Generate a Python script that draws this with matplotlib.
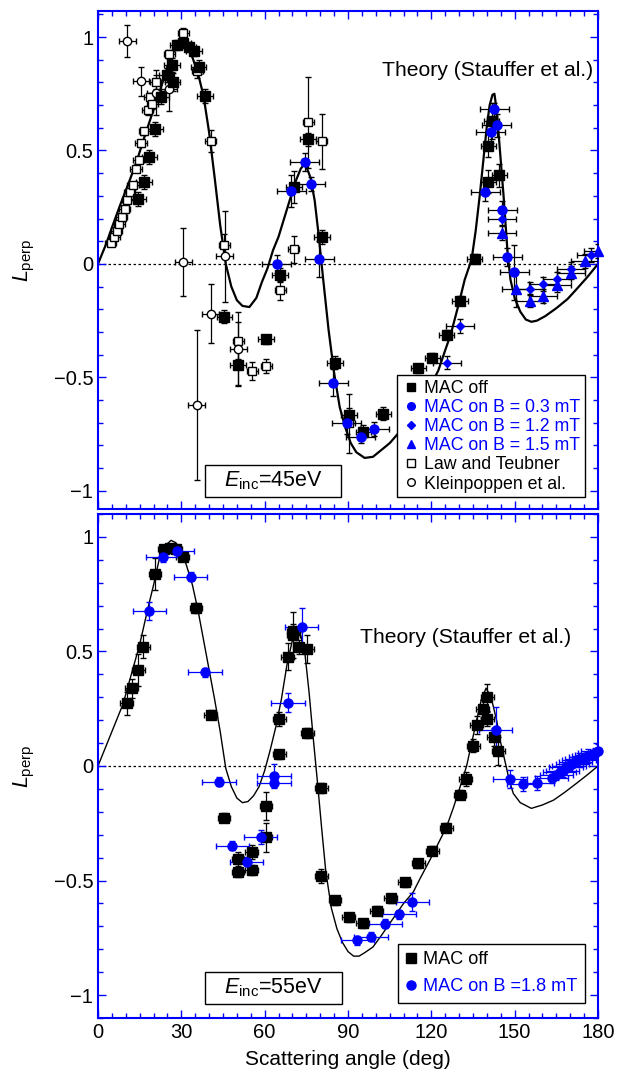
import numpy as np
import matplotlib
matplotlib.use('Agg')
import matplotlib.pyplot as plt
from matplotlib.ticker import MultipleLocator
from matplotlib.lines import Line2D
from matplotlib.patches import Rectangle

plt.rcParams['font.family'] = ['Liberation Sans', 'DejaVu Sans']
plt.rcParams['mathtext.fontset'] = 'custom'
plt.rcParams['mathtext.rm'] = 'Liberation Sans'
plt.rcParams['mathtext.it'] = 'Liberation Sans:italic'

BLUE = '#0000ff'

# ---- 45 eV ----
# theory (Stauffer et al.)
theta_th45 = [0, 3, 5, 8, 11, 14, 17, 20, 23, 25, 27, 29, 30.5, 32, 34, 36, 38, 40, 42, 44,
              46, 48, 50, 52, 54.5, 57, 59, 61, 63, 65, 67, 69, 71, 73, 74, 75, 76.5, 78,
              79.5, 81, 83, 85, 87, 89, 91, 93, 96, 99, 102, 105, 110, 115, 120, 122.5, 125,
              127, 130, 132, 134.5, 136, 137.5, 139, 140, 141, 142, 142.7, 143.5, 144.5, 146,
              147.5, 148.5, 150, 152, 154, 156, 158, 161, 165, 169, 172, 176, 180]
L_th45 = [0, 0.09, 0.16, 0.26, 0.355, 0.455, 0.57, 0.68, 0.79, 0.87, 0.93, 0.965, 0.975, 0.96,
          0.91, 0.84, 0.74, 0.58, 0.38, 0.17, 0.0, -0.1, -0.16, -0.185, -0.19, -0.15, -0.08,
          -0.02, 0.06, 0.12, 0.2, 0.28, 0.36, 0.42, 0.435, 0.43, 0.38, 0.28, 0.12, -0.06,
          -0.29, -0.48, -0.63, -0.72, -0.79, -0.83, -0.855, -0.85, -0.82, -0.79, -0.72, -0.63,
          -0.53, -0.47, -0.38, -0.31, -0.17, -0.07, 0.02, 0.15, 0.31, 0.49, 0.61, 0.7, 0.745,
          0.75, 0.68, 0.53, 0.3, 0.04, -0.07, -0.15, -0.21, -0.245, -0.255, -0.25, -0.23,
          -0.195, -0.155, -0.115, -0.06, 0]

# rows: theta, L, d_theta, d_L
off45 = np.array([
    [14.5, 0.285, 2.8, 0.03], [16.6, 0.361, 2.8, 0.03], [18.5, 0.47, 2.8, 0.03],
    [20.6, 0.595, 2.8, 0.03], [22.6, 0.734, 2.8, 0.03], [24.7, 0.833, 2.8, 0.03],
    [26.6, 0.877, 2.8, 0.03], [26.9, 0.80, 2.8, 0.04], [28.6, 0.965, 2.8, 0.02],
    [30.7, 0.972, 2.8, 0.02], [32.6, 0.957, 2.8, 0.02], [34.6, 0.938, 2.8, 0.02],
    [36.2, 0.869, 2.8, 0.03], [38.5, 0.74, 2.8, 0.03], [45.5, -0.232, 2.8, 0.03],
    [50.5, -0.446, 2.8, 0.09], [60.5, -0.332, 2.8, 0.02], [65.6, -0.05, 2.8, 0.03],
    [70.6, 0.34, 2.8, 0.07], [75.7, 0.549, 2.8, 0.03], [80.6, 0.118, 2.8, 0.03],
    [85.4, -0.435, 2.8, 0.03], [90.4, -0.665, 2.8, 0.03], [95.5, -0.739, 2.8, 0.03],
    [102.7, -0.66, 2.8, 0.03], [115.3, -0.46, 2.8, 0.02], [120.4, -0.413, 2.8, 0.02],
    [125.5, -0.313, 2.8, 0.02], [130.3, -0.162, 2.8, 0.02], [135.6, 0.023, 2.8, 0.02],
    [140.5, 0.363, 2.8, 0.05], [140.5, 0.521, 2.8, 0.05], [141.7, 0.63, 2.8, 0.08],
    [144.5, 0.39, 2.8, 0.05],
])
b03 = np.array([
    [64.4, 0.0, 5.2, 0.04], [69.6, 0.323, 5.2, 0.07], [74.5, 0.451, 5.2, 0.04],
    [76.6, 0.352, 5.2, 0.03], [79.6, 0.022, 5.2, 0.08], [84.7, -0.523, 5.2, 0.06],
    [89.5, -0.699, 5.2, 0.05], [94.6, -0.761, 5.2, 0.03], [99.4, -0.727, 5.2, 0.03],
    [139.4, 0.319, 5.2, 0.04], [141.4, 0.581, 5.2, 0.05], [142.7, 0.681, 5.2, 0.03],
    [143.5, 0.611, 5.2, 0.05], [145.5, 0.239, 5.2, 0.04], [147.3, 0.032, 5.2, 0.04],
    [149.8, -0.037, 5.2, 0.12],
])
b12 = np.array([
    [125.5, -0.435, 5.0, 0.03], [130.3, -0.273, 5.0, 0.03], [145.5, 0.2, 5.0, 0.03],
    [155.5, -0.109, 5.0, 0.03], [160.3, -0.088, 5.0, 0.03], [165.3, -0.065, 5.0, 0.03],
    [170.3, -0.023, 5.0, 0.03], [177.3, 0.04, 5.0, 0.03],
])
b15 = np.array([
    [145.4, 0.135, 5.0, 0.03], [150.4, -0.112, 5.0, 0.08], [155.5, -0.162, 5.0, 0.03],
    [160.3, -0.141, 5.0, 0.03], [165.3, -0.094, 5.0, 0.03], [170.3, -0.038, 5.0, 0.03],
    [175.3, 0.013, 5.0, 0.03], [180.0, 0.057, 5.0, 0.03],
])
law_teubner = np.array([
    [4.6, 0.094, 2.0, 0.015], [5.8, 0.12, 2.0, 0.015], [6.7, 0.147, 2.0, 0.015],
    [7.7, 0.176, 2.0, 0.015], [8.6, 0.206, 2.0, 0.015], [9.6, 0.242, 2.0, 0.015],
    [10.6, 0.282, 2.0, 0.015], [11.5, 0.319, 2.0, 0.015], [12.6, 0.347, 2.0, 0.015],
    [13.7, 0.42, 2.0, 0.015], [14.6, 0.458, 2.0, 0.015], [15.5, 0.532, 2.0, 0.015],
    [16.7, 0.585, 2.0, 0.015], [17.9, 0.678, 2.0, 0.02], [18.7, 0.734, 2.0, 0.02],
    [19.5, 0.703, 2.0, 0.02], [20.8, 0.803, 2.0, 0.03], [25.7, 0.924, 2.0, 0.02],
    [30.7, 1.019, 2.0, 0.02], [35.7, 0.85, 2.0, 0.03], [40.6, 0.542, 2.0, 0.05],
    [45.5, 0.082, 2.0, 0.05], [50.5, -0.338, 2.0, 0.08], [55.5, -0.471, 2.0, 0.04],
    [60.6, -0.449, 2.0, 0.03], [65.6, -0.117, 2.0, 0.04], [70.4, 0.065, 2.0, 0.06],
    [75.7, 0.624, 2.0, 0.2], [80.6, 0.54, 2.0, 0.12], [90.5, -0.702, 2.0, 0.13],
])
kleinpoppen = np.array([
    [10.6, 0.984, 3.0, 0.07], [15.5, 0.805, 3.0, 0.065], [20.8, 0.755, 3.0, 0.1],
    [25.6, 0.772, 3.0, 0.1], [30.7, 0.009, 3.0, 0.15], [35.5, -0.621, 3.0, 0.33],
    [40.6, -0.22, 3.0, 0.13], [45.6, 0.034, 3.0, 0.2], [50.5, -0.374, 3.0, 0.16],
])

# ---- 55 eV ----
theta_th55 = [0, 3, 6, 9, 12, 15, 18, 20, 22, 24, 26.3, 28, 30, 32, 34, 36, 38, 40, 42, 44,
              46, 48, 50, 52, 54, 56, 58, 60, 62, 64, 66, 68, 70, 71.5, 73, 74.5, 76, 77.5,
              79, 80.5, 82, 84, 86, 88, 90, 92, 94, 96, 99, 102, 106, 110, 113.5, 116, 119.5,
              122, 125.5, 128, 130.5, 132.7, 134.5, 136.3, 138, 139.7, 141.5, 143.5, 145,
              146.9, 148, 149.5, 152, 156, 160, 164, 168, 172, 176, 180]
L_th55 = [0, 0.09, 0.18, 0.27, 0.4, 0.53, 0.69, 0.79, 0.9, 0.96, 0.985, 0.975, 0.945, 0.87,
          0.79, 0.68, 0.55, 0.42, 0.29, 0.15, -0.01, -0.09, -0.14, -0.16, -0.155, -0.13,
          -0.09, -0.02, 0.07, 0.17, 0.29, 0.44, 0.55, 0.595, 0.57, 0.49, 0.32, 0.12, -0.07,
          -0.27, -0.46, -0.62, -0.71, -0.77, -0.81, -0.83, -0.83, -0.815, -0.79, -0.74,
          -0.67, -0.6, -0.55, -0.49, -0.41, -0.35, -0.265, -0.18, -0.085, 0.0, 0.1, 0.2,
          0.29, 0.34, 0.3, 0.2, 0.1, 0.0, -0.06, -0.12, -0.16, -0.185, -0.17, -0.149,
          -0.115, -0.078, -0.04, 0]

off55 = np.array([
    [10.3, 0.274, 2.3, 0.05], [12.1, 0.339, 2.3, 0.04], [14.5, 0.419, 2.3, 0.07],
    [16.3, 0.521, 2.3, 0.05], [20.5, 0.838, 2.3, 0.07], [23.8, 0.946, 2.3, 0.02],
    [25.9, 0.951, 2.3, 0.02], [28.1, 0.946, 2.3, 0.02], [30.5, 0.914, 2.3, 0.02],
    [35.3, 0.69, 2.3, 0.02], [40.6, 0.223, 2.3, 0.02], [45.4, -0.226, 2.3, 0.02],
    [50.4, -0.405, 2.3, 0.03], [50.4, -0.464, 2.3, 0.02], [55.4, -0.376, 2.3, 0.03],
    [55.4, -0.454, 2.3, 0.02], [60.5, -0.175, 2.3, 0.06], [60.5, -0.312, 2.3, 0.065],
    [65.3, 0.052, 2.3, 0.02], [65.3, 0.206, 2.3, 0.03], [68.3, 0.477, 2.3, 0.06],
    [70.3, 0.572, 2.3, 0.1], [70.3, 0.59, 2.3, 0.03], [72.4, 0.521, 2.3, 0.03],
    [75.4, 0.51, 2.3, 0.06], [75.4, 0.144, 2.3, 0.02], [80.4, -0.096, 2.3, 0.02],
    [80.4, -0.479, 2.3, 0.03], [85.3, -0.587, 2.3, 0.02], [90.2, -0.661, 2.3, 0.02],
    [95.3, -0.687, 2.3, 0.02], [100.3, -0.632, 2.3, 0.02], [105.4, -0.578, 2.3, 0.02],
    [110.4, -0.508, 2.3, 0.02], [115.3, -0.425, 2.3, 0.02], [120.3, -0.37, 2.3, 0.02],
    [125.4, -0.269, 2.3, 0.02], [130.3, -0.126, 2.3, 0.02], [132.4, -0.058, 2.3, 0.03],
    [135.1, 0.089, 2.3, 0.03], [136.3, 0.18, 2.3, 0.04], [138.5, 0.248, 2.3, 0.04],
    [140.1, 0.3, 2.3, 0.06], [140.1, 0.204, 2.3, 0.03], [142.5, 0.128, 2.3, 0.04],
    [144.1, 0.066, 2.3, 0.06],
])
b18 = np.array([
    [18.5, 0.678, 6.0, 0.04], [23.3, 0.911, 6.0, 0.02], [28.5, 0.94, 6.0, 0.02],
    [33.4, 0.827, 6.0, 0.02], [38.5, 0.409, 6.0, 0.02], [43.6, -0.068, 6.0, 0.02],
    [48.4, -0.348, 6.0, 0.02], [53.5, -0.418, 6.0, 0.02], [58.6, -0.309, 6.0, 0.03],
    [63.4, -0.042, 6.0, 0.05], [63.4, -0.076, 6.0, 0.02], [68.4, 0.277, 6.0, 0.04],
    [73.3, 0.608, 6.0, 0.08], [93.3, -0.76, 6.0, 0.02], [98.3, -0.745, 6.0, 0.02],
    [103.3, -0.689, 6.0, 0.02], [108.3, -0.648, 6.0, 0.02], [113.2, -0.593, 6.0, 0.04],
    [143.1, 0.157, 6.0, 0.1], [148.3, -0.058, 6.0, 0.04], [153.1, -0.078, 6.0, 0.03],
    [158.1, -0.075, 6.0, 0.03], [163.3, -0.054, 6.0, 0.02], [165.0, -0.04, 6.0, 0.02],
    [166.2, -0.028, 6.0, 0.02], [167.3, -0.02, 6.0, 0.03], [168.5, -0.006, 6.0, 0.02],
    [169.6, 0.002, 6.0, 0.02], [170.8, 0.01, 6.0, 0.03], [171.9, 0.018, 6.0, 0.02],
    [173.1, 0.025, 6.0, 0.03], [174.2, 0.03, 6.0, 0.02], [175.4, 0.038, 6.0, 0.02],
    [176.5, 0.045, 6.0, 0.03], [177.7, 0.05, 6.0, 0.02], [178.8, 0.058, 6.0, 0.02],
    [180.0, 0.066, 6.0, 0.03],
])


def points(ax, d, marker, ms, mfc, color, ecolor=None):
    line, caps, bars = ax.errorbar(d[:, 0], d[:, 1], xerr=d[:, 2], yerr=d[:, 3],
                                   fmt=marker, ms=ms, mfc=mfc, mec=color, mew=1.0,
                                   ecolor=ecolor or color, elinewidth=0.9, capsize=2,
                                   capthick=0.9, zorder=3)
    # markers sitting on the frame at 180 deg are drawn whole
    line.set_clip_on(False)


def style_axes(ax, ylim):
    ax.set_xlim(0, 180)
    ax.set_ylim(*ylim)
    ax.axhline(0, color='k', ls=(0, (2, 2)), lw=0.9, zorder=1)
    for s in ax.spines.values():
        s.set_color(BLUE)
        s.set_linewidth(1.5)
    ax.xaxis.set_major_locator(MultipleLocator(30))
    ax.xaxis.set_minor_locator(MultipleLocator(5))
    ax.set_yticks([-1, -0.5, 0, 0.5, 1], ['\u22121', '\u22120.5', '0', '0.5', '1'])
    ax.yaxis.set_minor_locator(MultipleLocator(0.1))
    ax.tick_params(which='both', direction='in', top=True, right=True, color=BLUE,
                   labelsize=14.5, width=1.0)
    ax.tick_params(which='major', length=6)
    ax.tick_params(which='minor', length=3.5)
    ax.set_ylabel(r'$L_{\rm perp}$', fontsize=15.5, labelpad=12)


def energy_box(ax, x0, x1, y0, y1, label):
    ax.add_patch(Rectangle((x0, y0), x1 - x0, y1 - y0, transform=ax.transAxes,
                           fc='white', ec='k', lw=1, zorder=5))
    ax.text((x0 + x1) / 2, (y0 + y1) / 2, label, transform=ax.transAxes, ha='center',
            va='center', fontsize=15.5, zorder=6)


fig = plt.figure(figsize=(6.19, 10.72), dpi=100)
ax1 = fig.add_axes([0.1583, 0.5252, 0.8078, 0.4646])
ax2 = fig.add_axes([0.1583, 0.0504, 0.8078, 0.4701])

# top panel, 45 eV
style_axes(ax1, (-1.08, 1.115))
ax1.tick_params(labelbottom=False)
ax1.plot(theta_th45, L_th45, color='k', lw=1.6, zorder=2)
points(ax1, law_teubner, 's', 5.8, 'white', 'k')
points(ax1, kleinpoppen, 'o', 6, 'white', 'k')
points(ax1, off45, 's', 7, 'k', 'k')
points(ax1, b03, 'o', 6.5, BLUE, BLUE, 'k')
points(ax1, b12, 'D', 4.2, BLUE, BLUE, 'k')
points(ax1, b15, '^', 6.5, BLUE, BLUE, 'k')
ax1.text(0.99, 0.88, 'Theory (Stauffer et al.)', transform=ax1.transAxes,
         ha='right', va='center', fontsize=15.2)
energy_box(ax1, 0.214, 0.486, 0.024, 0.088, r'$E_{\rm inc}$=45eV')

h45 = [Line2D([], [], ls='none', marker='s', ms=5.5, color='k'),
       Line2D([], [], ls='none', marker='o', ms=5.5, color=BLUE),
       Line2D([], [], ls='none', marker='D', ms=4, color=BLUE),
       Line2D([], [], ls='none', marker='^', ms=5.5, color=BLUE),
       Line2D([], [], ls='none', marker='s', ms=5.5, mfc='white', mec='k'),
       Line2D([], [], ls='none', marker='o', ms=5.5, mfc='white', mec='k')]
lab45 = ['MAC off', 'MAC on B = 0.3 mT', 'MAC on B = 1.2 mT', 'MAC on B = 1.5 mT',
         'Law and Teubner', 'Kleinpoppen et al.']
leg = ax1.legend(h45, lab45, loc='lower right', bbox_to_anchor=(0.974, 0.024),
                 borderaxespad=0, fontsize=12.8, handlelength=1.1, handletextpad=0.22,
                 labelspacing=0.12, borderpad=0.25, fancybox=False, framealpha=1,
                 edgecolor='k')
leg.get_frame().set_linewidth(1)
for t, c in zip(leg.get_texts(), ['k', BLUE, BLUE, BLUE, 'k', 'k']):
    t.set_color(c)

# bottom panel, 55 eV
style_axes(ax2, (-1.1, 1.1))
ax2.plot(theta_th55, L_th55, color='k', lw=1.0, zorder=2)
points(ax2, off55, 's', 7, 'k', 'k')
points(ax2, b18, 'o', 6.5, BLUE, BLUE)
ax2.text(0.946, 0.754, 'Theory (Stauffer et al.)', transform=ax2.transAxes,
         ha='right', va='center', fontsize=15.2)
energy_box(ax2, 0.214, 0.488, 0.028, 0.091, r'$E_{\rm inc}$=55eV')
h55 = [Line2D([], [], ls='none', marker='s', ms=6.5, color='k'),
       Line2D([], [], ls='none', marker='o', ms=6.5, color=BLUE)]
leg2 = ax2.legend(h55, ['MAC off', 'MAC on B =1.8 mT'], loc='lower right',
                  bbox_to_anchor=(0.974, 0.03), borderaxespad=0, fontsize=13.1,
                  handlelength=0.6, handletextpad=0.36, labelspacing=0.55, borderpad=0.41,
                  fancybox=False, framealpha=1, edgecolor='k')
leg2.get_frame().set_linewidth(1)
for t, c in zip(leg2.get_texts(), ['k', BLUE]):
    t.set_color(c)
ax2.set_xlabel('Scattering angle (deg)', fontsize=15, labelpad=6)

fig.savefig('out.png', dpi=100)
